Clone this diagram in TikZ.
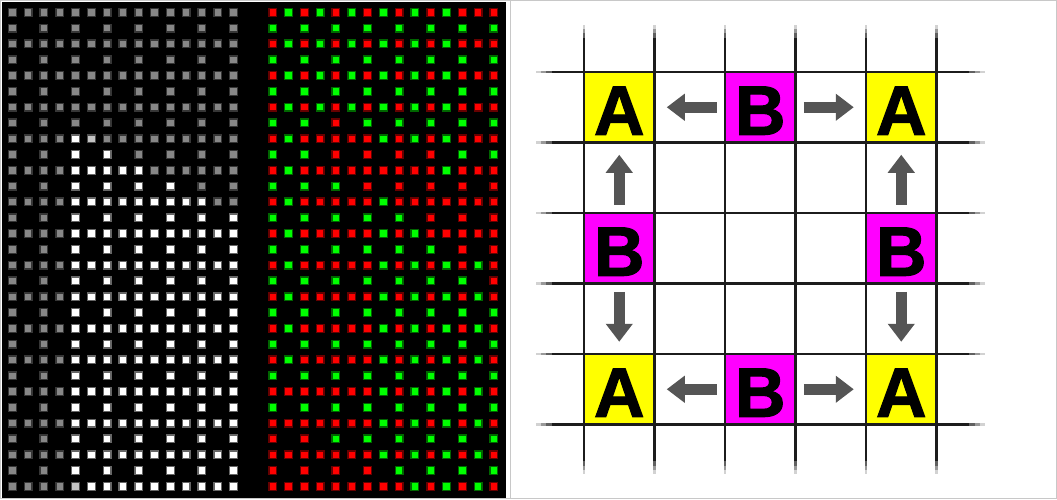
\documentclass[tikz,border=0pt]{standalone}
\usepackage{fontspec}
\newfontfamily\cellfont{Liberation Sans}[BoldFeatures={FakeBold=1.6}]
\usetikzlibrary{arrows.meta}
\definecolor{frameg}{RGB}{200,200,200}
\definecolor{gridc}{RGB}{28,28,28}
\definecolor{cellA}{RGB}{255,255,0}
\definecolor{cellB}{RGB}{255,0,255}
\definecolor{arrowg}{RGB}{85,85,85}
\definecolor{dr}{RGB}{255,0,0}
\definecolor{dg}{RGB}{0,255,0}
\definecolor{dw}{RGB}{255,255,255}
\definecolor{dk}{RGB}{135,135,135}
\definecolor{dl}{RGB}{195,195,195}
\tikzset{cell/.style={minimum size=68pt, inner sep=0pt, outer sep=0pt, text height=55pt, text depth=0pt,
    font=\cellfont\bfseries\fontsize{70pt}{70pt}\selectfont},
acell/.style={cell, fill=cellA},
bcell/.style={cell, fill=cellB},
flow/.style={-{Triangle[length=18pt,width=26pt]}, draw=arrowg, line width=11pt, shorten <=9.5pt, shorten >=13.5pt},
gridline/.style={draw=gridc, line width=2.6pt}
}
% one lit pixel: x, y, colour
\newcommand\lamp[3]{%
  \fill[#3!40!black] (#1,#2) +(-4.5,-4.5) rectangle +(4.5,4.5);
  \fill[#3] (#1,#2) +(-3.2,-3.2) rectangle +(3.2,3.2);}

\begin{document}
\begin{tikzpicture}[x=1pt, y=-1pt]
\useasboundingbox (0,0) rectangle (1057,499);
\fill[white] (0,0) rectangle (1057,499);
\fill[black] (1.5,1.5) rectangle (506,497.5);
\draw[frameg, line width=1.2pt] (0.6,0.6) rectangle (1056.4,498.4);
\draw[frameg, line width=1pt] (510.5,0) -- (510.5,499);

% left screen: grey and white pixels
\foreach \j in {0,...,30}{
  \ifodd\j \def\n{7}\def\stp{31.6}\else \def\n{14}\def\stp{15.8}\fi
  \foreach \i in {0,...,\n}{
    \pgfmathtruncatemacro\col{round(\i*\stp/15.8)}
    \pgfmathtruncatemacro\lit{and(and(\j>=8,\col>=4),\col<=4+2*(\j-8))}
    \ifnum\lit=1 \def\dc{dw}\else \def\dc{dk}\fi
    \ifnum\j=8 \ifnum\col=5 \def\dc{dl}\fi\fi
    \ifnum\j=30 \ifnum\col=4 \def\dc{dl}\fi\fi
    \lamp{12.3+\i*\stp}{12.3+15.8*\j}{\dc}
  }
}

% right screen: red and green pixels
\foreach \row [count=\j from 0] in {
  {r,g,r,g,r,g,r,g,r,g,r,g,r,r,r},{g,g,g,g,g,g,g,g},
  {r,g,r,g,r,g,r,g,r,g,r,g,r,r,r},{g,g,g,g,g,g,g,g},
  {r,g,r,g,r,g,r,g,r,g,r,g,r,r,r},{g,g,g,g,g,g,g,g},
  {r,g,r,g,r,g,r,g,r,g,r,g,r,r,r},{g,g,r,g,g,g,g,g},
  {r,g,r,r,r,r,r,g,r,g,r,g,r,r,r},{g,g,r,r,r,r,g,g},
  {r,g,r,r,r,r,r,r,r,r,r,g,r,r,r},{g,g,g,r,r,r,r,r},
  {r,g,r,r,r,r,r,g,r,r,r,r,r,r,r},{g,g,g,g,g,r,r,r},
  {r,g,r,r,r,r,r,g,r,g,r,r,r,r,r},{g,g,g,g,g,g,r,r},
  {r,g,r,r,r,r,r,g,r,g,r,g,r,g,r},{g,g,g,g,g,g,g,r},
  {r,g,r,r,r,r,r,g,r,g,r,g,r,g,r},{g,g,g,g,g,g,g,g},
  {r,g,r,r,r,r,r,g,r,g,r,g,r,g,r},{g,g,g,g,g,g,g,g},
  {r,g,r,r,r,r,r,g,r,g,r,g,r,g,r},{g,g,g,g,g,g,g,g},
  {r,r,r,r,r,r,r,g,r,g,r,g,r,g,r},{g,g,g,g,g,g,g,g},
  {r,r,r,r,r,r,r,g,r,g,r,g,r,g,r},{r,r,g,g,g,g,g,g},
  {r,r,r,r,r,r,r,g,r,g,r,g,r,g,r},{r,r,r,r,g,g,g,g},
  {r,r,r,r,r,r,r,r,r,g,r,g,r,g,r}}{
  \ifodd\j \def\stp{31.6}\else \def\stp{15.8}\fi
  \foreach \c [count=\i from 0] in \row {
    \lamp{272.7+\i*\stp}{12.3+15.8*\j}{d\c}
  }
}

% the board
\node[acell] (a1) at (619.25,107.25) {A};
\node[bcell] (b1) at (760.25,107.25) {B};
\node[acell] (a2) at (901.25,107.25) {A};
\node[bcell] (b2) at (619.25,248.25) {B};
\node[bcell] (b3) at (901.25,248.25) {B};
\node[acell] (a3) at (619.25,389.25) {A};
\node[bcell] (b4) at (760.25,389.25) {B};
\node[acell] (a4) at (901.25,389.25) {A};

\foreach \k in {0,...,5}{
  \pgfmathsetmacro\gx{584+70.5*\k}
  \pgfmathsetmacro\gy{72+70.5*\k}
  \draw[gridline] (\gx,38) -- (\gx,460.5);
  \draw[gridline] (552,\gy) -- (968.5,\gy);
  % stubs fade out towards their ends
  \foreach \a/\b/\m in {38/33/70, 33/29/45, 29/25/20}{
    \draw[gridline, draw=gridc!\m!white] (\gx,\a) -- (\gx,\b);
    \draw[gridline, draw=gridc!\m!white] (\gx,498.5-\a) -- (\gx,498.5-\b);
  }
  \foreach \a/\b/\m in {552/546/70, 546/541/45, 541/536/20}{
    \draw[gridline, draw=gridc!\m!white] (\a,\gy) -- (\b,\gy);
    \draw[gridline, draw=gridc!\m!white] (1520.5-\a,\gy) -- (1520.5-\b,\gy);
  }
}

\draw[flow] (b1) -- (a1);
\draw[flow] (b1) -- (a2);
\draw[flow] (b2) -- (a1);
\draw[flow] (b3) -- (a2);
\draw[flow] (b2) -- (a3);
\draw[flow] (b3) -- (a4);
\draw[flow] (b4) -- (a3);
\draw[flow] (b4) -- (a4);
\end{tikzpicture}
\end{document}
